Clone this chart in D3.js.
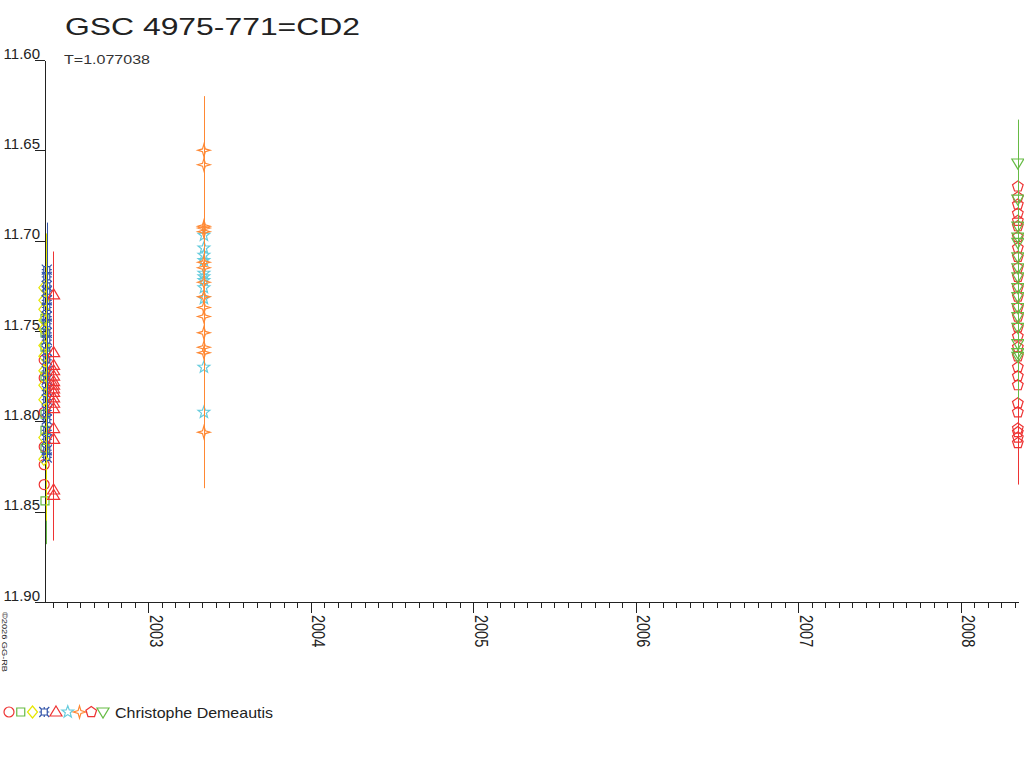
<!DOCTYPE html>
<html><head><meta charset="utf-8">
<script src="https://cdn.jsdelivr.net/npm/d3@7"></script>
<style>
html,body{margin:0;padding:0;background:#fff;}
svg{display:block;font-family:"Liberation Sans",Arial,sans-serif;}
</style></head>
<body>
<svg id="c" width="1024" height="768"></svg>
<script>
// ---------------- DATA ----------------
const title = "GSC 4975-771=CD2";
const subtitle = "T=1.077038";
const observer = "Christophe Demeautis";
const credit = "©2026 GG-RB";
const yTicks = [11.60, 11.65, 11.70, 11.75, 11.80, 11.85, 11.90];
const yearTicks = [2003, 2004, 2005, 2006, 2007, 2008];
const xDomain = [2002.365, 2008.353];
const yDomain = [11.60, 11.90];

// series: legend order
const seriesNames = ["circle", "square", "diamond", "xbox", "triangle", "star5", "star4", "pentagon", "triangleDown"];
// observation dates (decimal years) per series
const seriesDates = [2002.360, 2002.365, 2002.358, 2002.376, 2002.418, 2003.343, 2003.343, 2008.352, 2008.352];
// magnitudes per series
const circleMags = [11.766, 11.776, 11.795, 11.814, 11.824, 11.835];
const squareMags = [11.743, 11.751, 11.759, 11.775, 11.796, 11.805, 11.815, 11.844];
const diamondMags = [11.726, 11.733, 11.738, 11.744, 11.749, 11.758, 11.764, 11.772, 11.780, 11.788, 11.809, 11.821];
const xboxMags = [11.716, 11.720, 11.725, 11.728, 11.733, 11.737, 11.742, 11.746, 11.751, 11.755, 11.761, 11.766,
                  11.772, 11.777, 11.783, 11.788, 11.794, 11.799, 11.805, 11.810, 11.816, 11.820];
const triangleMags = [11.730, 11.762, 11.769, 11.772, 11.775, 11.778, 11.780, 11.782, 11.784, 11.787, 11.790,
                      11.793, 11.804, 11.810, 11.838, 11.841];
const star5Mags = [11.697, 11.704, 11.708, 11.711, 11.718, 11.720, 11.722, 11.726, 11.732, 11.770, 11.795];
const star4Mags = [11.650, 11.658, 11.692, 11.693, 11.695, 11.712, 11.715, 11.723, 11.731, 11.737, 11.742,
                   11.751, 11.759, 11.762, 11.806];
const pentagonMags = [11.670, 11.676, 11.680, 11.685, 11.689, 11.692, 11.698, 11.704, 11.709, 11.715, 11.720,
                      11.726, 11.731, 11.737, 11.742, 11.748, 11.753, 11.759, 11.764, 11.770, 11.775, 11.780,
                      11.790, 11.795, 11.804, 11.806, 11.809, 11.812];
const triangleDownMags = [11.657, 11.677, 11.692, 11.698, 11.701, 11.709, 11.715, 11.720, 11.726, 11.731, 11.737,
                          11.742, 11.748, 11.757, 11.762, 11.764];
const seriesMags = [circleMags, squareMags, diamondMags, xboxMags, triangleMags, star5Mags, star4Mags, pentagonMags, triangleDownMags];
// error ranges (mean date, low, high magnitude) per series, null when none visible
const errDates = [null, 2002.373, 2002.371, 2002.378, 2002.417, null, 2003.343, 2008.352, 2008.352];
const errLow  = [null, 11.720, 11.696, 11.690, 11.706, null, 11.620, 11.660, 11.633];
const errHigh = [null, 11.868, 11.855, 11.820, 11.866, null, 11.837, 11.835, 11.788];

// ---------------- STYLE ----------------
const colors = ["#ee3333", "#66bb44", "#e6e600", "#3355aa", "#ee3333", "#66ccdd", "#ff8833", "#ee3333", "#66bb44"];
const M = {left: 45, right: 1018, top: 60, bottom: 602};

function shapePath(type) {
  switch (type) {
    case "circle": return "M5,0A5,5 0 1,1 -5,0A5,5 0 1,1 5,0Z";
    case "square": return "M-4,-4H4V4H-4Z";
    case "diamond": return "M0,-6L5,0L0,6L-5,0Z";
    case "xbox": return "M-3,-3H3V3H-3Z M-5,-5L-3,-3 M5,-5L3,-3 M5,5L3,3 M-5,5L-3,3 M0,-5V-3 M0,3V5 M-5,0H-3 M3,0H5";
    case "triangle": return "M0,-6L6,4L-6,4Z";
    case "triangleDown": return "M-6,-4L6,-4L0,6Z";
    case "star5": {
      let p = [];
      for (let i = 0; i < 10; i++) {
        const r = i % 2 ? 2.6 : 6.2, a = -Math.PI / 2 + i * Math.PI / 5;
        p.push([r * Math.cos(a), r * Math.sin(a)]);
      }
      return "M" + p.map(d => d[0].toFixed(2) + "," + d[1].toFixed(2)).join("L") + "Z";
    }
    case "star4": {
      let p = [];
      for (let i = 0; i < 8; i++) {
        const r = i % 2 ? 2 : 6.2, a = -Math.PI / 2 + i * Math.PI / 4;
        p.push([r * Math.cos(a), r * Math.sin(a)]);
      }
      return "M" + p.map(d => d[0].toFixed(2) + "," + d[1].toFixed(2)).join("L") + "Z";
    }
    case "pentagon": {
      let p = [];
      for (let i = 0; i < 5; i++) {
        const a = -Math.PI / 2 + i * 2 * Math.PI / 5;
        p.push([5.6 * Math.cos(a), 5.6 * Math.sin(a)]);
      }
      return "M" + p.map(d => d[0].toFixed(2) + "," + d[1].toFixed(2)).join("L") + "Z";
    }
  }
}

// ---------------- CHART ----------------
const svg = d3.select("#c");
const x = d3.scaleLinear().domain(xDomain).range([M.left, M.right]);
const y = d3.scaleLinear().domain(yDomain).range([M.top, M.bottom]);

// title
svg.append("text").attr("x", 65).attr("y", 35).attr("font-size", 24).attr("fill", "#222")
  .attr("textLength", 295).attr("lengthAdjust", "spacingAndGlyphs").text(title);
svg.append("text").attr("x", 64).attr("y", 64).attr("font-size", 12).attr("fill", "#333")
  .attr("textLength", 86).attr("lengthAdjust", "spacingAndGlyphs").text(subtitle);

// y axis
const yAxis = d3.axisLeft(y).tickValues(yTicks).tickSize(10).tickSizeOuter(0).tickFormat(d3.format(".2f"));
const gy = svg.append("g").attr("transform", `translate(${M.left},0)`).call(yAxis);
gy.select(".domain").attr("stroke", "#222").attr("shape-rendering", "crispEdges");
gy.selectAll(".tick line").attr("stroke", "#222").attr("shape-rendering", "crispEdges");
gy.selectAll(".tick text").attr("x", -5).attr("dy", null).attr("y", -2)
  .attr("font-size", 15).attr("font-family", "Liberation Sans, Arial, sans-serif").attr("fill", "#222");

// x axis: monthly minor ticks
const minor = [];
for (let yr = 2002; yr <= 2008; yr++) for (let m = 0; m < 12; m++) {
  const v = yr + m / 12;
  if (m !== 0 && v >= xDomain[0] && v <= xDomain[1] + 1e-6) minor.push(v);
}
const gxm = svg.append("g").attr("transform", `translate(0,${M.bottom})`)
  .call(d3.axisBottom(x).tickValues(minor).tickSize(6).tickSizeOuter(0).tickFormat(""));
gxm.select(".domain").attr("stroke", "#222").attr("shape-rendering", "crispEdges");
gxm.selectAll(".tick line").attr("stroke", "#222").attr("shape-rendering", "crispEdges");

const gx = svg.append("g").attr("transform", `translate(0,${M.bottom})`)
  .call(d3.axisBottom(x).tickValues(yearTicks).tickSize(11).tickSizeOuter(0).tickFormat(d3.format("d")));
gx.select(".domain").remove();
gx.selectAll(".tick line").attr("stroke", "#222").attr("shape-rendering", "crispEdges");
gx.selectAll(".tick text").attr("x", 0).attr("y", 0).attr("dy", null)
  .attr("text-anchor", "start").attr("font-size", 14.5)
  .attr("font-family", "Liberation Sans, Arial, sans-serif").attr("fill", "#222")
  .attr("transform", "translate(1,13) rotate(90) scale(1,1.3)");

// credit
svg.append("text").attr("transform", "translate(2,612) rotate(90)").attr("font-size", 7)
  .attr("fill", "#222")
  .attr("textLength", 60).attr("lengthAdjust", "spacingAndGlyphs").text(credit);

// markers
seriesNames.forEach((name, i) => {
  const g = svg.append("g").attr("class", "s-" + name);
  g.selectAll("path").data(seriesMags[i]).join("path")
    .attr("transform", d => `translate(${x(seriesDates[i])},${y(d)})`)
    .attr("d", shapePath(name))
    .attr("fill", "none").attr("stroke", colors[i]).attr("stroke-width", 1.2);
});
// error lines (drawn on top)
seriesNames.forEach((name, i) => {
  if (errLow[i] == null) return;
  const xx = Math.round(x(errDates[i])) + 0.5;
  svg.append("line")
    .attr("x1", xx).attr("x2", xx)
    .attr("y1", y(errLow[i])).attr("y2", y(errHigh[i]))
    .attr("stroke", colors[i]).attr("stroke-width", 1);
});

// legend
const lg = svg.append("g").attr("transform", "translate(0,712)");
const lx = d3.scalePoint().domain(seriesNames).range([9, 103]);
seriesNames.forEach((name, i) => {
  lg.append("path").attr("transform", `translate(${lx(name)},0)`).attr("d", shapePath(name))
    .attr("fill", "none").attr("stroke", colors[i]).attr("stroke-width", 1.2);
});
lg.append("text").attr("x", 115).attr("y", 6).attr("font-size", 14.5).attr("fill", "#222")
  .attr("textLength", 158).attr("lengthAdjust", "spacingAndGlyphs").text(observer);
</script>
</body></html>
